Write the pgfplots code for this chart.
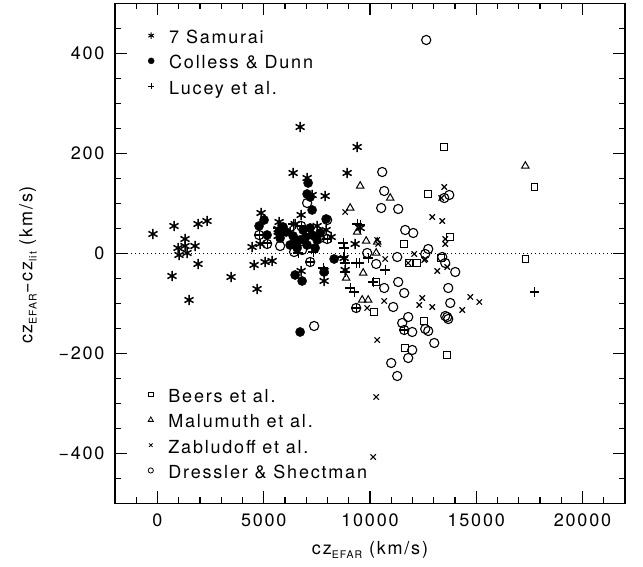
\documentclass[border=0pt]{standalone}
\usepackage{fontspec}
\setmainfont{TeX Gyre Heros}[LetterSpace=10]
\usepackage{pgfplots}
\pgfplotsset{compat=1.18}
\newcommand\lbl{\fontsize{18}{21}\selectfont}
\newcommand\sub[1]{\raisebox{-0.45ex}{\fontsize{10.5}{12}\selectfont #1}}

\pgfplotsset{
  sam/.style={only marks, mark=asterisk, mark size=5.2pt, mark options={line width=1.5pt}, legend image post style={mark size=3.2pt, mark options={line width=1pt}}},
  cd/.style={only marks, mark=*, mark size=4.6pt, legend image post style={mark size=3pt}},
  luc/.style={only marks, mark=+, mark size=4.8pt, mark options={line width=1.1pt}, legend image post style={mark size=3pt, mark options={line width=0.8pt}}},
  bee/.style={only marks, mark=square, mark size=3.3pt, mark options={line width=1pt}, legend image post style={mark size=2.3pt, mark options={line width=0.8pt}}},
  mal/.style={only marks, mark=triangle, mark size=4.3pt, mark options={line width=1pt}, legend image post style={mark size=3pt, mark options={line width=0.8pt}}},
  zab/.style={only marks, mark=x, mark size=3.8pt, mark options={line width=1.1pt}, legend image post style={mark size=2.5pt, mark options={line width=0.8pt}}},
  dre/.style={only marks, mark=o, mark size=4.6pt, mark options={line width=1.1pt}, legend image post style={mark size=2.6pt, mark options={line width=0.8pt}}},
  key/.style={
    legend cell align=left,
    legend image code/.code={\draw[##1] plot coordinates {(0pt,0.7ex)};},
    legend style={draw=none, fill=none, inner sep=0pt, column sep=15pt, row sep=8.8pt,
      font=\lbl, nodes={inner sep=0pt, text height=12.5pt, text depth=4pt}},
  },
  box/.style={
    at={(0,0)}, anchor=south west,
    scale only axis, width=510pt, height=500pt,
    xmin=-2000, xmax=22000, ymin=-500, ymax=500,
  },
  tickseg/.style={forget plot, no markers, solid, line width=1.2pt, black, unbounded coords=jump},
}

\begin{document}
\begin{tikzpicture}

% the four samples keyed at the bottom
\begin{axis}[box, key, hide axis,
  legend style={at={(axis description cs:0.0647,0.2274)}, anchor=north west},
]
% Beers et al.
\addplot[bee] coordinates {
(13494,213) (12741,119) (17733,133) (13777,33) (13353,-9) (17310,-11) (12552,-135)
(11610,19) (11845,-19) (12222,-19) (10291,-57) (10197,-117) (11657,-189) (13635,-203)
};
\addlegendentry{Beers et al.}

% Malumuth et al.
\addplot[mal] coordinates {
(9538,135) (10951,111) (9067,91) (9396,43) (9820,25) (10338,23) (10291,1) (9679,-39)
(8878,-49) (9632,-93) (9914,-93) (17310,175)
};
\addlegendentry{Malumuth et al.}

% Zabludoff et al.
\addplot[zab] coordinates {
(13494,133) (12929,73) (13400,65) (13541,29) (13541,19) (12552,-13) (13635,-27)
(13165,-35) (12458,-89) (12317,-103) (12929,-107) (14719,-87) (15143,-97) (14342,-113)
(8831,83) (10338,27) (10385,19) (12081,-1) (10715,-11) (12599,-11) (10668,-95)
(9867,-109) (10338,-173) (10291,-287) (10150,-407) (11798,-19) (13353,111)
};
\addlegendentry{Zabludoff et al.}

% Dressler & Shectman
\addplot[dre] coordinates {
(12646,427) (10574,163) (10668,125) (10527,91) (11328,89) (11657,47) (12034,41)
(12741,9) (12599,-1) (11281,-7) (10291,-21) (9867,1) (11328,-57) (10668,-69)
(11610,-79) (11092,-107) (11798,-127) (11516,-139) (11610,-153) (11987,-157)
(12599,-151) (12741,-155) (13635,-127) (7371,-145) (13494,111) (13730,117)
(13400,-7) (13541,-19) (14012,-37) (13682,-69) (13777,-99) (13541,-125) (13682,-131)
(13023,-179) (11987,-193) (11798,-209) (10998,-219) (11281,-245) (9349,-109)
(4781,37) (5157,19) (5770,15) (7041,101) (6759,55) (7136,39) (7654,31) (7983,29)
(6806,7) (7183,-17) (7983,67) (6429,3)
};
\addlegendentry{Dressler \& Shectman}
\end{axis}

\begin{axis}[box, key,
  scaled x ticks=false, scaled y ticks=false,
  xtick={0,5000,10000,15000,20000},
  xticklabels={0,5000,10000,15000,20000},
  ytick={-400,-200,0,200,400},
  yticklabels={−400,−200,0,200,400},
  tick align=inside,
  major tick length=12pt,
  every tick/.append style={line width=1.2pt, color=black},
  axis line style={line width=1.5pt},
  tick label style={font=\lbl},
  xticklabel shift=7pt, yticklabel shift=7pt,
  xlabel={cz\sub{EFAR} (km/s)},
  ylabel={cz\sub{EFAR}−cz\sub{lit} (km/s)},
  xlabel style={at={(axis description cs:0.5,-0.093)}, anchor=center, font=\lbl},
  ylabel style={at={(axis description cs:-0.1706,0.477)}, anchor=center, font=\lbl},
  legend style={at={(axis description cs:0.0647,0.9454)}, anchor=north west},
]
\addplot[forget plot, line width=1.2pt, dash pattern=on 1.2pt off 2.8pt] coordinates {(-2000,0) (22000,0)};

% tick marks on the bottom and top edges (major 12pt = 24 units, minor 6pt = 12 units)
\addplot[tickseg] coordinates {
(0,-500)(0,-476)(0,nan) (0,500)(0,476)(0,nan)
(5000,-500)(5000,-476)(5000,nan) (5000,500)(5000,476)(5000,nan)
(10000,-500)(10000,-476)(10000,nan) (10000,500)(10000,476)(10000,nan)
(15000,-500)(15000,-476)(15000,nan) (15000,500)(15000,476)(15000,nan)
(20000,-500)(20000,-476)(20000,nan) (20000,500)(20000,476)(20000,nan)
(-1000,-500)(-1000,-488)(-1000,nan) (-1000,500)(-1000,488)(-1000,nan)
(1000,-500)(1000,-488)(1000,nan) (1000,500)(1000,488)(1000,nan)
(2000,-500)(2000,-488)(2000,nan) (2000,500)(2000,488)(2000,nan)
(3000,-500)(3000,-488)(3000,nan) (3000,500)(3000,488)(3000,nan)
(4000,-500)(4000,-488)(4000,nan) (4000,500)(4000,488)(4000,nan)
(6000,-500)(6000,-488)(6000,nan) (6000,500)(6000,488)(6000,nan)
(7000,-500)(7000,-488)(7000,nan) (7000,500)(7000,488)(7000,nan)
(8000,-500)(8000,-488)(8000,nan) (8000,500)(8000,488)(8000,nan)
(9000,-500)(9000,-488)(9000,nan) (9000,500)(9000,488)(9000,nan)
(11000,-500)(11000,-488)(11000,nan) (11000,500)(11000,488)(11000,nan)
(12000,-500)(12000,-488)(12000,nan) (12000,500)(12000,488)(12000,nan)
(13000,-500)(13000,-488)(13000,nan) (13000,500)(13000,488)(13000,nan)
(14000,-500)(14000,-488)(14000,nan) (14000,500)(14000,488)(14000,nan)
(16000,-500)(16000,-488)(16000,nan) (16000,500)(16000,488)(16000,nan)
(17000,-500)(17000,-488)(17000,nan) (17000,500)(17000,488)(17000,nan)
(18000,-500)(18000,-488)(18000,nan) (18000,500)(18000,488)(18000,nan)
(19000,-500)(19000,-488)(19000,nan) (19000,500)(19000,488)(19000,nan)
(21000,-500)(21000,-488)
};
% tick marks on the left and right edges (major 12pt = 565 units, minor 6pt = 282 units)
\addplot[tickseg] coordinates {
(-2000,-400)(-1435,-400)(nan,-400) (22000,-400)(21435,-400)(nan,-400)
(-2000,-200)(-1435,-200)(nan,-200) (22000,-200)(21435,-200)(nan,-200)
(-2000,0)(-1435,0)(nan,0) (22000,0)(21435,0)(nan,0)
(-2000,200)(-1435,200)(nan,200) (22000,200)(21435,200)(nan,200)
(-2000,400)(-1435,400)(nan,400) (22000,400)(21435,400)(nan,400)
(-2000,-450)(-1718,-450)(nan,-450) (22000,-450)(21718,-450)(nan,-450)
(-2000,-350)(-1718,-350)(nan,-350) (22000,-350)(21718,-350)(nan,-350)
(-2000,-300)(-1718,-300)(nan,-300) (22000,-300)(21718,-300)(nan,-300)
(-2000,-250)(-1718,-250)(nan,-250) (22000,-250)(21718,-250)(nan,-250)
(-2000,-150)(-1718,-150)(nan,-150) (22000,-150)(21718,-150)(nan,-150)
(-2000,-100)(-1718,-100)(nan,-100) (22000,-100)(21718,-100)(nan,-100)
(-2000,-50)(-1718,-50)(nan,-50) (22000,-50)(21718,-50)(nan,-50)
(-2000,50)(-1718,50)(nan,50) (22000,50)(21718,50)(nan,50)
(-2000,100)(-1718,100)(nan,100) (22000,100)(21718,100)(nan,100)
(-2000,150)(-1718,150)(nan,150) (22000,150)(21718,150)(nan,150)
(-2000,250)(-1718,250)(nan,250) (22000,250)(21718,250)(nan,250)
(-2000,300)(-1718,300)(nan,300) (22000,300)(21718,300)(nan,300)
(-2000,350)(-1718,350)(nan,350) (22000,350)(21718,350)(nan,350)
(-2000,450)(-1718,450)(nan,450) (22000,450)(21718,450)
};

% 7 Samurai
\addplot[sam] coordinates {
(-212,39) (777,55) (1908,59) (2331,65) (1295,29) (966,11) (1295,15) (1766,15)
(1013,-3) (1389,1) (1908,-21) (683,-45) (1484,-93) (3462,-47) (4451,13) (4545,-23)
(4686,-71) (4875,81) (5063,-17) (5393,-15) (4828,19) (5723,63) (5676,49) (5676,35)
(6382,161) (6712,253) (6759,77) (6476,59) (7041,151) (7277,117) (7889,115) (7936,47)
(8172,33) (9396,213) (8925,161) (9538,51) (9302,19) (8784,-9) (8831,-33) (6759,-35)
(7842,-35) (7842,-55) (6241,43) (7512,55)
};
\addlegendentry{7 Samurai}

% Colless & Dunn
\addplot[cd] coordinates {
(7089,141) (7041,119) (7183,113) (7277,87) (4781,55) (5016,67) (5157,37) (5723,43)
(5770,31) (6382,35) (6476,23) (6712,27) (7183,51) (7277,37) (7512,27) (7041,17)
(6570,11) (7936,69) (8313,-11) (7842,-37) (6476,-43) (6806,-55) (6712,-157) (6052,43)
(6853,47) (7654,41) (6947,31) (6241,17) (7418,11) (5911,53)
};
\addlegendentry{Colless \& Dunn}

% Lucey et al.
\addplot[luc] coordinates {
(9396,59) (9538,57) (8737,21) (8784,11) (8737,-7) (8831,-19) (8831,-37) (9067,-69)
(9255,-77) (9349,-19) (9490,-19) (9914,-9) (10715,-33) (10150,-57) (7324,3) (5676,51)
(6382,59) (7795,-29) (11610,-153) (17733,-77) (6759,55) (7183,39) (7983,29) (7183,-17)
(4781,37) (5157,21) (9349,-109) (6618,1)
};
\addlegendentry{Lucey et al.}
\end{axis}

\pgfresetboundingbox
\path[use as bounding box] (-115pt,-63.5pt) rectangle (528pt,503.5pt);
\end{tikzpicture}
\end{document}
